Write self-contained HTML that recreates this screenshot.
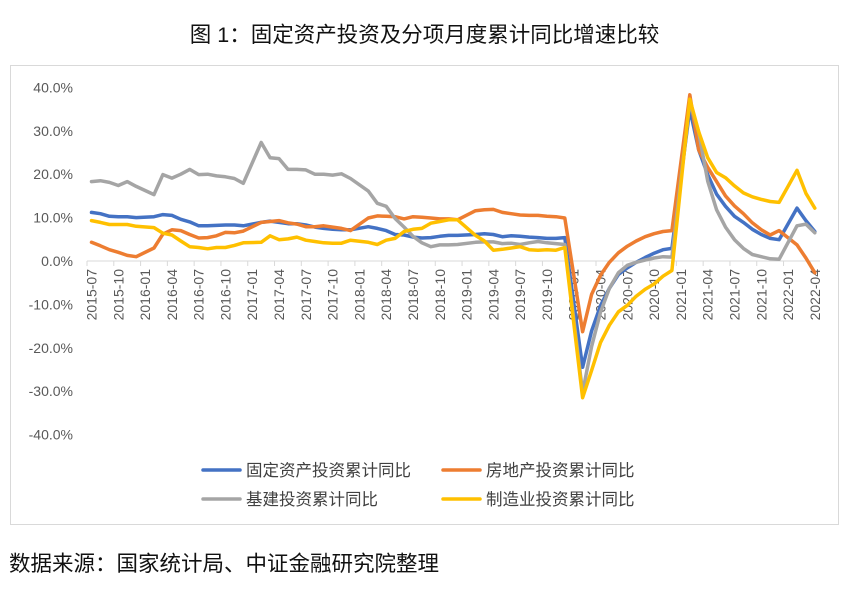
<!DOCTYPE html>
<html><head><meta charset="utf-8">
<style>
body{margin:0;background:#fff;width:849px;height:590px;overflow:hidden;font-family:"Liberation Sans","Noto Sans CJK SC",sans-serif;}
#title{position:absolute;left:0;width:849px;top:18px;text-align:center;font-size:21.5px;font-weight:normal;color:#111;font-family:"Liberation Sans","Noto Sans CJK SC",sans-serif;}
#frame{position:absolute;left:10px;top:65px;width:827px;height:458px;border:1px solid #d9d9d9;}
#source{position:absolute;left:9px;top:547px;font-size:21.5px;font-weight:normal;color:#111;}
svg{position:absolute;left:0;top:0;}
</style></head><body>
<div id="title">图 1：固定资产投资及分项月度累计同比增速比较</div>
<div id="frame"></div>
<div id="source">数据来源：国家统计局、中证金融研究院整理</div>
<svg id="chart" width="849" height="590"></svg>
<script>
const startYear = 2015, startMonth = 7, monthCount = 82;
const yTicks = [40,30,20,10,0,-10,-20,-30,-40];
const seriesNames = ["固定资产投资累计同比","房地产投资累计同比","基建投资累计同比","制造业投资累计同比"];
const seriesColors = ["#4472C4","#ED7D31","#A5A5A5","#FFC000"];
const fixedAsset = [11.2,10.9,10.3,10.2,10.2,10.0, null,10.2,10.7,10.5,9.6,9.0,8.1,8.1,8.2,8.3,8.3,8.1, null,8.9,9.2,8.9,8.6,8.6,8.3,7.8,7.5,7.3,7.2,7.2, null,7.9,7.5,7.0,6.1,6.0,5.5,5.3,5.4,5.7,5.9,5.9, null,6.1,6.3,6.1,5.6,5.8,5.7,5.5,5.4,5.2,5.2,5.4, null,-24.5,-16.1,-10.3,-6.3,-3.1,-1.6,-0.3,0.8,1.8,2.6,2.9, null,35.0,25.6,19.9,15.4,12.6,10.3,8.9,7.3,6.1,5.2,4.9, null,12.2,9.3,6.8];
const realEstate = [4.3,3.5,2.6,2.0,1.3,1.0, null,3.0,6.2,7.2,7.0,6.1,5.3,5.4,5.8,6.6,6.5,6.9, null,8.9,9.1,9.3,8.8,8.5,7.9,7.9,8.1,7.8,7.5,7.0, null,9.9,10.4,10.3,10.2,9.7,10.2,10.1,9.9,9.7,9.7,9.5, null,11.6,11.8,11.9,11.2,10.9,10.6,10.5,10.5,10.3,10.2,9.9, null,-16.3,-7.7,-3.3,-0.3,1.9,3.4,4.6,5.6,6.3,6.8,7.0, null,38.3,25.6,21.6,18.3,15.0,12.7,10.9,8.8,7.2,6.0,7.0, null,3.7,0.7,-2.7];
const infrastructure = [18.3,18.5,18.1,17.4,18.3,17.2, null,15.3,19.9,19.1,20.0,21.1,19.9,20.0,19.6,19.4,19.0,17.9, null,27.3,23.8,23.6,21.1,21.1,21.0,20.0,20.0,19.8,20.1,19.0, null,16.1,13.3,12.6,9.8,7.8,5.7,4.2,3.3,3.7,3.7,3.8, null,4.3,4.4,4.4,4.0,4.1,3.8,4.2,4.5,4.2,4.0,3.8, null,-30.3,-19.7,-11.8,-6.3,-2.7,-1.0,-0.3,0.2,0.7,1.0,0.9, null,36.6,29.7,18.4,11.8,7.8,4.9,2.9,1.5,1.0,0.5,0.4, null,8.1,8.5,6.5];
const manufacturing = [9.3,8.9,8.4,8.4,8.4,8.0, null,7.7,6.4,6.0,4.6,3.3,3.1,2.8,3.1,3.1,3.6,4.2, null,4.3,5.8,4.9,5.1,5.5,4.8,4.5,4.2,4.1,4.1,4.8, null,4.3,3.8,4.8,5.2,6.8,7.3,7.5,8.7,9.1,9.5,9.5, null,5.9,4.6,2.5,2.7,3.0,3.3,2.6,2.5,2.6,2.5,3.1, null,-31.5,-25.2,-18.8,-14.8,-11.7,-10.2,-8.1,-6.5,-5.3,-3.5,-2.2, null,37.3,29.8,23.8,20.4,19.2,17.3,15.7,14.8,14.2,13.7,13.5, null,20.9,15.6,12.2];
const allSeries = [fixedAsset, realEstate, infrastructure, manufacturing];

const NS = "http://www.w3.org/2000/svg";
const svg = document.getElementById("chart");
const x = i => 91.5 + i * 8.93;
const y = v => 261 - v * 4.34;
function mk(tag, attrs){const e=document.createElementNS(NS,tag);for(const k in attrs)e.setAttribute(k,attrs[k]);svg.appendChild(e);return e;}

yTicks.forEach(t=>{
  const e = mk("text",{x:73,y:y(t)+5,"text-anchor":"end","font-size":"14",fill:"#595959","font-family":"Liberation Sans, sans-serif"});
  
  
  e.textContent = t.toFixed(1)+"%";
});
const axis = mk("line",{x1:87,x2:820,y1:y(0),y2:y(0),stroke:"#d9d9d9","stroke-width":1});



for(let i=0;i<monthCount;i+=3){
  const m0 = startMonth - 1 + i;
  const yr = startYear + Math.floor(m0/12), mo = m0%12 + 1;
  const tk = mk("line",{x1:x(i)-4.5,x2:x(i)-4.5,y1:y(0),y2:y(0)+5,stroke:"#d9d9d9","stroke-width":1});
  
  
  const lb = mk("text",{x:0,y:0,"text-anchor":"end","font-size":"14",fill:"#595959","font-family":"Liberation Sans, sans-serif",transform:`translate(${x(i)+5},${y(0)+8}) rotate(-90)`});
  
  
  lb.textContent = yr + "-" + String(mo).padStart(2,"0");
}

allSeries.forEach((s,k)=>{
  const pts=[];
  s.forEach((v,i)=>{ if(v!==null) pts.push(x(i).toFixed(1)+","+y(v).toFixed(1)); });
  const p = mk("polyline",{points:pts.join(" "),fill:"none",stroke:seriesColors[k],"stroke-width":3.5,"stroke-linejoin":"round","stroke-linecap":"round"});
  
  
});

const legendPos = [[203,470],[443,470],[203,499],[443,499]];
seriesNames.forEach((n,k)=>{
  const [lx,ly]=legendPos[k];
  const l = mk("line",{x1:lx,x2:lx+37,y1:ly,y2:ly,stroke:seriesColors[k],"stroke-width":3.5,"stroke-linecap":"round"});
  
  
  const t = mk("text",{x:lx+43,y:ly+6,"font-size":"16.5",fill:"#404040","font-family":"Liberation Sans, Noto Sans CJK SC, sans-serif"});
  
  
  t.textContent = n;
});
</script>
</body></html>
